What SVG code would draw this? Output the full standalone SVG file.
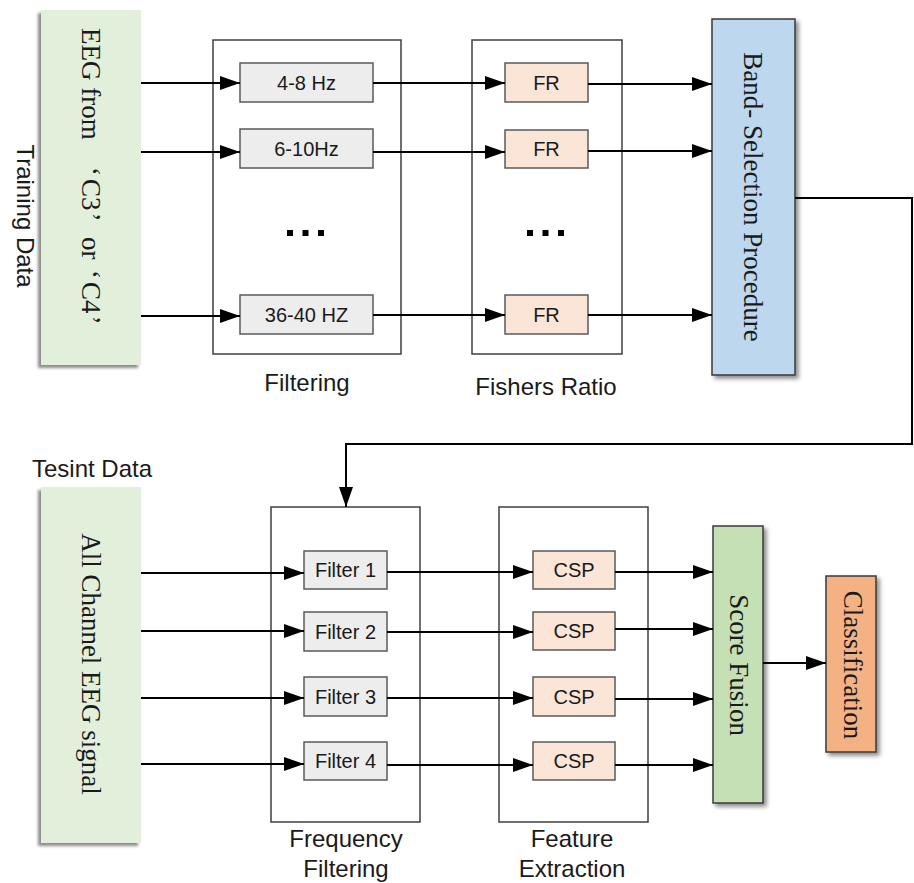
<svg xmlns="http://www.w3.org/2000/svg" width="914" height="883" viewBox="0 0 914 883">
  <style>
    .bg { fill: #ffffff; }
    .group { fill: none; stroke: #3f3f3f; stroke-width: 1.5; }
    .band { fill: #ededed; stroke: #5a5a5a; stroke-width: 1.5; }
    .score { fill: #fbe5d6; stroke: #5a5a5a; stroke-width: 1.5; }
    .src { fill: #e2efda; }
    .sel { fill: #bdd7ee; stroke: #3a3a3a; stroke-width: 1.5; }
    .fuse { fill: #c5e0b4; stroke: #3a3a3a; stroke-width: 1.5; }
    .cls { fill: #f4b183; stroke: #3a3a3a; stroke-width: 1.5; }
    .serif { font-family: "Liberation Serif", "Times New Roman", serif; font-size: 27px; fill: #1a1a1a; }
    .sans { font-family: "Liberation Sans", Arial, sans-serif; fill: #1a1a1a; }
    .lbl { font-size: 24px; }
    .box { font-size: 20px; }
    .wire { fill: none; stroke: #000000; stroke-width: 2; }
    .dot { fill: #000000; }
  </style>
  <defs>
    <marker id="arrow" viewBox="0 0 20 14" refX="20" refY="7" markerWidth="20" markerHeight="14" markerUnits="userSpaceOnUse" orient="auto">
      <path d="M0,0 L20,7 L0,14 Z" fill="#000000"/>
    </marker>
    <filter id="shadowR" x="-20%" y="-10%" width="150%" height="120%">
      <feDropShadow dx="3" dy="3" stdDeviation="2" flood-color="#000000" flood-opacity="0.45"/>
    </filter>
    <filter id="shadowL" x="-20%" y="-10%" width="150%" height="120%">
      <feDropShadow dx="-3" dy="3" stdDeviation="1.5" flood-color="#000000" flood-opacity="0.45"/>
    </filter>
  </defs>

  <rect class="bg" x="0" y="0" width="914" height="883"/>

  <!-- training input -->
  <g id="training-input">
    <rect class="src" x="41" y="10" width="100" height="355" filter="url(#shadowL)"/>
    <text class="serif" transform="translate(91,28) rotate(90)" y="9">EEG from<tspan x="139">‘</tspan><tspan dx="3">C3</tspan><tspan dx="2">’</tspan><tspan x="209">or</tspan><tspan x="242">‘</tspan><tspan dx="3">C4</tspan><tspan dx="2">’</tspan></text>
  </g>
  <g id="training-label">
    <text class="sans lbl" transform="translate(25,216) rotate(90)" y="8.5" text-anchor="middle">Training Data</text>
  </g>

  <!-- filtering stage -->
  <g id="filtering">
    <rect class="group" x="213" y="40" width="188" height="314"/>
    <text class="sans lbl" x="307" y="391" text-anchor="middle">Filtering</text>
  </g>
  <g id="band-4-8">
    <rect class="band" x="240" y="63" width="133" height="39"/>
    <text class="sans box" x="306.5" y="89.5" text-anchor="middle">4-8 Hz</text>
  </g>
  <g id="band-6-10">
    <rect class="band" x="240" y="129" width="133" height="39"/>
    <text class="sans box" x="306.5" y="155.5" text-anchor="middle">6-10Hz</text>
  </g>
  <g id="filter-dots">
    <rect class="dot" x="287" y="230" width="6" height="6"/>
    <rect class="dot" x="302.5" y="230" width="6" height="6"/>
    <rect class="dot" x="318" y="230" width="6" height="6"/>
  </g>
  <g id="band-36-40">
    <rect class="band" x="240" y="295" width="133" height="39"/>
    <text class="sans box" x="306.5" y="321.5" text-anchor="middle">36-40 HZ</text>
  </g>

  <!-- fisher ratio stage -->
  <g id="fishers-ratio">
    <rect class="group" x="472" y="40" width="150" height="314"/>
    <text class="sans lbl" x="546" y="395" text-anchor="middle">Fishers Ratio</text>
  </g>
  <g id="fr-1">
    <rect class="score" x="505" y="63" width="83" height="39"/>
    <text class="sans box" x="546.5" y="89.5" text-anchor="middle">FR</text>
  </g>
  <g id="fr-2">
    <rect class="score" x="505" y="130" width="83" height="38"/>
    <text class="sans box" x="546.5" y="156" text-anchor="middle">FR</text>
  </g>
  <g id="fr-dots">
    <rect class="dot" x="527" y="230" width="6" height="6"/>
    <rect class="dot" x="542.5" y="230" width="6" height="6"/>
    <rect class="dot" x="558" y="230" width="6" height="6"/>
  </g>
  <g id="fr-3">
    <rect class="score" x="505" y="295" width="83" height="39"/>
    <text class="sans box" x="546.5" y="321.5" text-anchor="middle">FR</text>
  </g>

  <!-- band selection -->
  <g id="band-selection">
    <rect class="sel" x="712" y="19" width="83" height="356" filter="url(#shadowR)"/>
    <text class="serif" transform="translate(752.5,197) rotate(90)" y="9" text-anchor="middle">Band- Selection Procedure</text>
  </g>

  <!-- testing input -->
  <g id="testing-label">
    <text class="sans lbl" x="32" y="477">Tesint Data</text>
  </g>
  <g id="testing-input">
    <rect class="src" x="41" y="487" width="100" height="356" filter="url(#shadowL)"/>
    <text class="serif" transform="translate(91,664) rotate(90)" y="9" text-anchor="middle">All Channel EEG signal</text>
  </g>

  <!-- frequency filtering stage -->
  <g id="frequency-filtering">
    <rect class="group" x="271" y="507" width="149" height="315"/>
    <text class="sans lbl" x="346" y="847" text-anchor="middle">Frequency</text>
    <text class="sans lbl" x="346" y="877" text-anchor="middle">Filtering</text>
  </g>
  <g id="filter-1">
    <rect class="band" x="304" y="551" width="83" height="38"/>
    <text class="sans box" x="345.5" y="577" text-anchor="middle">Filter 1</text>
  </g>
  <g id="filter-2">
    <rect class="band" x="304" y="612" width="83" height="39"/>
    <text class="sans box" x="345.5" y="638.5" text-anchor="middle">Filter 2</text>
  </g>
  <g id="filter-3">
    <rect class="band" x="304" y="677" width="83" height="39"/>
    <text class="sans box" x="345.5" y="703.5" text-anchor="middle">Filter 3</text>
  </g>
  <g id="filter-4">
    <rect class="band" x="304" y="742" width="83" height="38"/>
    <text class="sans box" x="345.5" y="768" text-anchor="middle">Filter 4</text>
  </g>

  <!-- feature extraction stage -->
  <g id="feature-extraction">
    <rect class="group" x="499" y="507" width="149" height="315"/>
    <text class="sans lbl" x="572" y="847" text-anchor="middle">Feature</text>
    <text class="sans lbl" x="572" y="877" text-anchor="middle">Extraction</text>
  </g>
  <g id="csp-1">
    <rect class="score" x="533" y="551" width="82" height="38"/>
    <text class="sans box" x="574" y="577" text-anchor="middle">CSP</text>
  </g>
  <g id="csp-2">
    <rect class="score" x="533" y="612" width="82" height="38"/>
    <text class="sans box" x="574" y="638" text-anchor="middle">CSP</text>
  </g>
  <g id="csp-3">
    <rect class="score" x="533" y="677" width="82" height="39"/>
    <text class="sans box" x="574" y="703.5" text-anchor="middle">CSP</text>
  </g>
  <g id="csp-4">
    <rect class="score" x="533" y="742" width="82" height="38"/>
    <text class="sans box" x="574" y="768" text-anchor="middle">CSP</text>
  </g>

  <!-- fusion and classification -->
  <g id="score-fusion">
    <rect class="fuse" x="713" y="526" width="50" height="277" filter="url(#shadowR)"/>
    <text class="serif" transform="translate(739,665) rotate(90)" y="9" text-anchor="middle">Score Fusion</text>
  </g>
  <g id="classification">
    <rect class="cls" x="826" y="576" width="50" height="176" filter="url(#shadowR)"/>
    <text class="serif" transform="translate(853,665) rotate(90)" y="9" text-anchor="middle">Classification</text>
  </g>

  <!-- connectors -->
  <g id="connectors">
    <line class="wire" x1="141" y1="83" x2="240" y2="83" marker-end="url(#arrow)"/>
    <line class="wire" x1="141" y1="152" x2="240" y2="152" marker-end="url(#arrow)"/>
    <line class="wire" x1="141" y1="316" x2="240" y2="316" marker-end="url(#arrow)"/>

    <line class="wire" x1="373" y1="83" x2="505" y2="83" marker-end="url(#arrow)"/>
    <line class="wire" x1="373" y1="152" x2="505" y2="152" marker-end="url(#arrow)"/>
    <line class="wire" x1="373" y1="315" x2="505" y2="315" marker-end="url(#arrow)"/>

    <line class="wire" x1="588" y1="84" x2="712" y2="84" marker-end="url(#arrow)"/>
    <line class="wire" x1="588" y1="151" x2="712" y2="151" marker-end="url(#arrow)"/>
    <line class="wire" x1="588" y1="315" x2="712" y2="315" marker-end="url(#arrow)"/>

    <polyline class="wire" points="795,198 912,198 912,444 346,444 346,507" marker-end="url(#arrow)"/>

    <line class="wire" x1="141" y1="573" x2="304" y2="573" marker-end="url(#arrow)"/>
    <line class="wire" x1="141" y1="631" x2="304" y2="631" marker-end="url(#arrow)"/>
    <line class="wire" x1="141" y1="698" x2="304" y2="698" marker-end="url(#arrow)"/>
    <line class="wire" x1="141" y1="764" x2="304" y2="764" marker-end="url(#arrow)"/>

    <line class="wire" x1="387" y1="572" x2="533" y2="572" marker-end="url(#arrow)"/>
    <line class="wire" x1="387" y1="632" x2="533" y2="632" marker-end="url(#arrow)"/>
    <line class="wire" x1="387" y1="698" x2="533" y2="698" marker-end="url(#arrow)"/>
    <line class="wire" x1="387" y1="765" x2="533" y2="765" marker-end="url(#arrow)"/>

    <line class="wire" x1="615" y1="572" x2="713" y2="572" marker-end="url(#arrow)"/>
    <line class="wire" x1="615" y1="629" x2="713" y2="629" marker-end="url(#arrow)"/>
    <line class="wire" x1="615" y1="699" x2="713" y2="699" marker-end="url(#arrow)"/>
    <line class="wire" x1="615" y1="765" x2="713" y2="765" marker-end="url(#arrow)"/>

    <line class="wire" x1="763" y1="663" x2="826" y2="663" marker-end="url(#arrow)"/>
  </g>
</svg>
